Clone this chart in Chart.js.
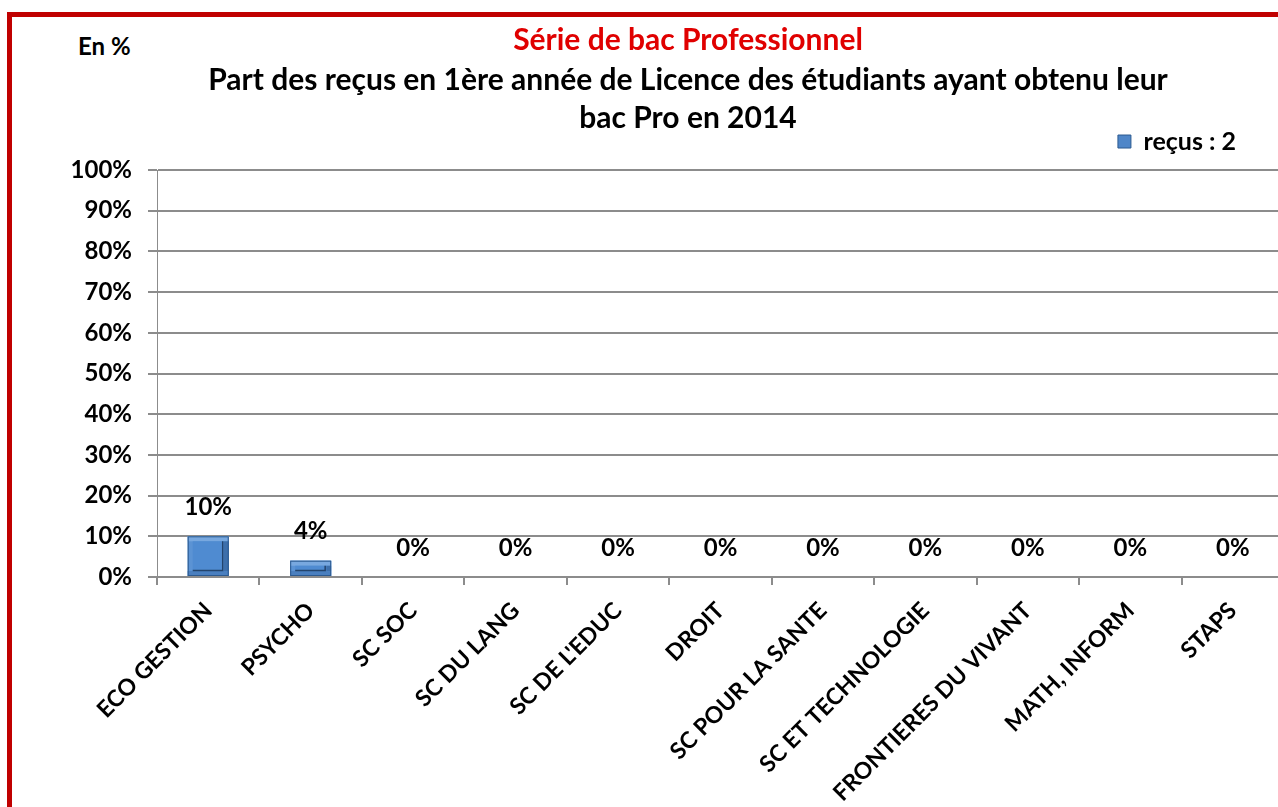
<!DOCTYPE html>
<html>
<head>
<meta charset="utf-8">
<script src="https://cdn.jsdelivr.net/npm/chart.js@4/dist/chart.umd.min.js"></script>
<style>
  html, body { margin: 0; padding: 0; background: #fff; overflow: hidden; }
  #wrap { position: relative; width: 1278px; height: 807px; overflow: hidden; }
  #frame { position: absolute; left: 7px; top: 12px; width: 1400px; height: 900px;
           border: 5px solid #c00000; box-sizing: border-box; }
  #unit { position: absolute; left: 78px; top: 34px; font: bold 24px/24px Lato, sans-serif; color: #000; }
  canvas { position: absolute; left: 0; top: 0; }
</style>
</head>
<body>
<div id="wrap">
  <div id="frame"></div>
  <div id="unit">En %</div>
  <canvas id="bacChart" width="1300" height="807"></canvas>
</div>
<script>
// Filieres de licence
const filieres = ["ECO GESTION", "PSYCHO", "SC SOC", "SC DU LANG", "SC DE L'EDUC", "DROIT",
                  "SC POUR LA SANTE", "SC ET TECHNOLOGIE", "FRONTIERES DU VIVANT", "MATH, INFORM", "STAPS"];

// Part des reçus (en %)
const recus = [10, 4, 0, 0, 0, 0, 0, 0, 0, 0, 0];

const serieTitre = "Série de bac Professionnel";
const sousTitre = ["Part des reçus en 1ère année de Licence des étudiants ayant obtenu leur", "bac Pro en 2014"];
const legendeLabel = "reçus : 2";

const FONT = "Lato, 'Open Sans', sans-serif";

// bars drawn with a small bevel like the office chart
const bevelBars = {
    id: 'bevelBars',
    afterDatasetsDraw(chart) {
        const ctx = chart.ctx;
        chart.getDatasetMeta(0).data.forEach(bar => {
            const p = bar.getProps(['x', 'y', 'base', 'width'], true);
            const h = p.base - p.y;
            if (h < 1) return;
            const l = p.x - p.width / 2, r = p.x + p.width / 2, t = p.y, b = p.base;
            const w = p.width;
            const k = Math.min(5, h / 3);
            ctx.save();
            // bevel ring
            ctx.fillStyle = '#5b93d4';
            ctx.fillRect(l, t, w, h);
            ctx.fillStyle = '#78a8df';
            ctx.fillRect(l, t, w, k);
            ctx.fillStyle = '#4a7fbf';
            ctx.fillRect(l, b - k, w, k);
            ctx.fillStyle = '#3d6fab';
            ctx.fillRect(r - k, t + k, k, h - 2 * k);
            // inner face
            ctx.fillStyle = '#4f8bd1';
            ctx.fillRect(l + k, t + k, w - 2 * k, h - 2 * k);
            // dark inner edge right and bottom
            ctx.strokeStyle = '#23446c';
            ctx.lineWidth = 1.5;
            ctx.beginPath();
            ctx.moveTo(r - k - 1, t + k);
            ctx.lineTo(r - k - 1, b - k - 0.5);
            ctx.lineTo(l + k, b - k - 0.5);
            ctx.stroke();
            // outer edge
            ctx.strokeStyle = '#2c5a90';
            ctx.lineWidth = 1;
            ctx.strokeRect(l + 0.5, t + 0.5, w - 1, h - 1);
            ctx.restore();
        });
    }
};

// value labels above bars
const valeurs = {
    id: 'valeurs',
    afterDatasetsDraw(chart) {
        const ctx = chart.ctx;
        ctx.save();
        ctx.font = 'bold 24px ' + FONT;
        ctx.fillStyle = '#000';
        ctx.textAlign = 'center';
        ctx.textBaseline = 'middle';
        chart.getDatasetMeta(0).data.forEach((bar, i) => {
            ctx.fillText(recus[i] + '%', bar.x, bar.y - 29);
        });
        ctx.restore();
    }
};

// legend sits a bit left and up, y labels must not be clipped
const ajustements = {
    id: 'ajustements',
    afterLayout(chart) {
        if (chart.legend) {
            chart.legend.left -= 44;
            chart.legend.right -= 44;
            chart.legend.top -= 6;
            chart.legend.bottom -= 6;
        }
        chart.scales.y.left = 0;
    }
};

const ctx = document.getElementById('bacChart').getContext('2d');

let chart = new Chart(ctx, {
    type: 'bar',
    data: {
        labels: filieres,
        datasets: [{
            label: legendeLabel,
            data: recus,
            backgroundColor: '#4f81bd',
            borderWidth: 0,
            barPercentage: 0.4,
            categoryPercentage: 1.0
        }]
    },
    plugins: [bevelBars, valeurs, ajustements],
    options: {
        responsive: false,
        animation: false,
        layout: { padding: { left: 92, right: 16, top: 0, bottom: 0 } },
        plugins: {
            title: {
                display: true,
                text: serieTitre,
                color: '#e00000',
                font: { family: FONT, size: 30, weight: 'bold', lineHeight: 1.2 },
                padding: { top: 22, bottom: 0 }
            },
            subtitle: {
                display: true,
                text: sousTitre,
                color: '#000',
                font: { family: FONT, size: 30, weight: 'bold', lineHeight: 1.267 },
                padding: { top: 3, bottom: -6 }
            },
            legend: {
                display: true,
                position: 'top',
                align: 'end',
                labels: {
                    color: '#000',
                    font: { family: FONT, size: 25, weight: 'bold' },
                    boxWidth: 13,
                    boxHeight: 13,
                    padding: 4,
                    generateLabels: (c) => [{
                        text: legendeLabel,
                        fillStyle: '#4f86c8',
                        strokeStyle: '#2c5a90',
                        lineWidth: 1,
                        datasetIndex: 0
                    }]
                }
            },
            tooltip: { enabled: false }
        },
        scales: {
            x: {
                grid: {
                    display: true,
                    drawOnChartArea: false,
                    drawTicks: true,
                    tickLength: 8,
                    color: '#8c8c8c',
                    lineWidth: 2
                },
                border: { display: false },
                ticks: {
                    color: '#000',
                    font: { family: FONT, size: 23, weight: 'bold' },
                    maxRotation: 45,
                    minRotation: 45,
                    autoSkip: false,
                    padding: 12
                },
                afterFit(scale) { scale.height = 230; }
            },
            y: {
                min: 0,
                max: 100,
                ticks: {
                    stepSize: 10,
                    color: '#000',
                    font: { family: FONT, size: 24, weight: 'bold' },
                    padding: 16,
                    callback: v => v + '%'
                },
                grid: {
                    color: '#8c8c8c',
                    lineWidth: 2,
                    tickLength: 9
                },
                border: { display: true, color: '#8c8c8c', width: 1 },
                afterFit(scale) { scale.width = 65; }
            }
        }
    }
});
</script>
</body>
</html>
